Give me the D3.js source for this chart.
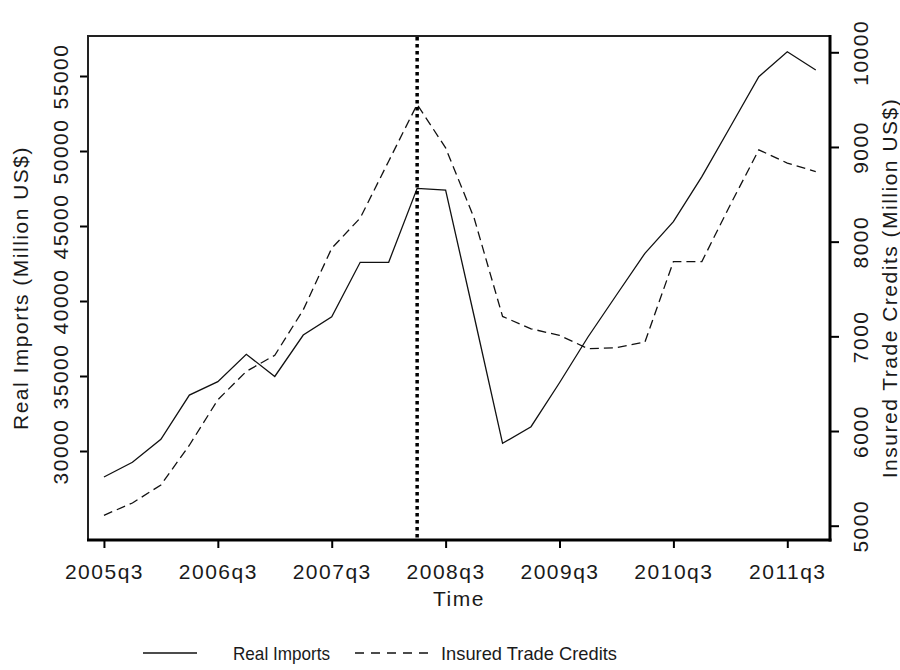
<!DOCTYPE html>
<html>
<head>
<meta charset="utf-8">
<script src="https://cdn.jsdelivr.net/npm/d3@7"></script>
<style>
  body { margin: 0; background: #fff; }
  svg text { font-family: "Liberation Sans", Arial, sans-serif; fill: #1a1a1a; }
</style>
</head>
<body>
<svg id="chart" width="900" height="670"></svg>
<script>
// quarters shown on the x axis
const quarters = ["2005q3","2005q4","2006q1","2006q2","2006q3","2006q4","2007q1","2007q2",
                  "2007q3","2007q4","2008q1","2008q2","2008q3","2008q4","2009q1","2009q2",
                  "2009q3","2009q4","2010q1","2010q2","2010q3","2010q4","2011q1","2011q2",
                  "2011q3","2011q4"];
// Real Imports (Million US$), left axis
const realImports = [28270, 29250, 30780, 33730, 34620, 36450, 34970, 37730, 38950, 42580,
                     42580, 47510, 47400, 39000, 30510, 31620, 34550, 37600, 40400, 43180,
                     45290, 48290, 51620, 54950, 56620, 55400];
// Insured Trade Credits (Million US$), right axis
const insuredCredits = [5110, 5240, 5430, 5850, 6330, 6630, 6800, 7280, 7930, 8250,
                        8850, 9450, 8990, 8250, 7210, 7080, 7010, 6870, 6880, 6940,
                        7790, 7790, 8390, 8970, 8830, 8740];
const xTickLabels = ["2005q3","2006q3","2007q3","2008q3","2009q3","2010q3","2011q3"];
const leftTicks = [30000, 35000, 40000, 45000, 50000, 55000];
const rightTicks = [5000, 6000, 7000, 8000, 9000, 10000];
const markQuarter = "2008q2";

const box = {left: 88, right: 830, top: 36, bottom: 540};
const svg = d3.select("#chart");

const x = d3.scaleLinear().domain([-0.56, 25.5]).range([box.left, box.right]);
const yL = d3.scaleLinear().domain([24067, 57667]).range([box.bottom, box.top]);
const yR = d3.scaleLinear().domain([4849, 10172]).range([box.bottom, box.top]);

const axisFont = "21px";
const spacing = "1.5px";

// x axis
let gx = svg.append("g").attr("transform", `translate(0,${box.bottom})`)
    .call(d3.axisBottom(x).tickValues(xTickLabels.map(q => quarters.indexOf(q)))
          .tickFormat(i => quarters[i]).tickSize(8).tickPadding(10));
gx.select(".domain").remove();
gx.selectAll("line").attr("stroke", "#000").attr("stroke-width", 2);
gx.selectAll("text").attr("font-size", axisFont).attr("letter-spacing", spacing)
    .attr("dy", null).attr("y", 39);

// left axis
let gl = svg.append("g").attr("transform", `translate(${box.left},0)`)
    .call(d3.axisLeft(yL).tickValues(leftTicks).tickFormat(d3.format("d")).tickSize(8));
gl.select(".domain").remove();
gl.selectAll("line").attr("stroke", "#000").attr("stroke-width", 2);
gl.selectAll("text").attr("font-size", axisFont).attr("letter-spacing", spacing)
    .attr("x", null).attr("dy", null).attr("text-anchor", "middle")
    .attr("transform", "translate(-20,0) rotate(-90)");

// right axis
let gr = svg.append("g").attr("transform", `translate(${box.right},0)`)
    .call(d3.axisRight(yR).tickValues(rightTicks).tickFormat(d3.format("d")).tickSize(9));
gr.select(".domain").remove();
gr.selectAll("line").attr("stroke", "#000").attr("stroke-width", 2);
gr.selectAll("text").attr("font-size", axisFont).attr("letter-spacing", spacing)
    .attr("x", null).attr("dy", null).attr("text-anchor", "middle")
    .attr("transform", "translate(38,0) rotate(-90)");

// plot box
svg.append("rect").attr("x", box.left).attr("y", box.top)
    .attr("width", box.right - box.left).attr("height", box.bottom - box.top)
    .attr("fill", "none").attr("stroke", "#222").attr("stroke-width", 2);
svg.append("line").attr("x1", box.left - 1).attr("x2", box.right + 1.5)
    .attr("y1", box.bottom).attr("y2", box.bottom).attr("stroke", "#000").attr("stroke-width", 3);
svg.append("line").attr("x1", box.right).attr("x2", box.right)
    .attr("y1", box.top - 1).attr("y2", box.bottom + 1.5).attr("stroke", "#000").attr("stroke-width", 3);

// axis titles
const midX = (box.left + box.right) / 2, midY = (box.top + box.bottom) / 2;
svg.append("text").attr("x", midX).attr("y", 606).attr("text-anchor", "middle")
    .attr("font-size", axisFont).attr("letter-spacing", spacing).text("Time");
svg.append("text").attr("transform", `translate(28,${midY}) rotate(-90)`)
    .attr("text-anchor", "middle").attr("font-size", axisFont).attr("letter-spacing", spacing)
    .text("Real Imports (Million US$)");
svg.append("text").attr("transform", `translate(897,${midY}) rotate(-90)`)
    .attr("text-anchor", "middle").attr("font-size", axisFont).attr("letter-spacing", spacing)
    .text("Insured Trade Credits (Million US$)");

// series
const lineL = d3.line().x((d, i) => x(i)).y(d => yL(d));
const lineR = d3.line().x((d, i) => x(i)).y(d => yR(d));
svg.append("path").datum(realImports).attr("d", lineL)
    .attr("fill", "none").attr("stroke", "#111").attr("stroke-width", 1.3);
svg.append("path").datum(insuredCredits).attr("d", lineR)
    .attr("fill", "none").attr("stroke", "#111").attr("stroke-width", 1.3)
    .attr("stroke-dasharray", "9,5");

// dotted marker
const mx = x(quarters.indexOf(markQuarter));
svg.append("line").attr("x1", mx).attr("x2", mx).attr("y1", box.top + 1).attr("y2", box.bottom - 1)
    .attr("stroke", "#000").attr("stroke-width", 3.5).attr("stroke-dasharray", "3.5,3.5");

// legend (narrow bitmap-like text, squeezed to the reference width)
const legend = svg.append("g").attr("transform", "translate(0,653)");
legend.append("line").attr("x1", 143).attr("x2", 197).attr("y1", 0).attr("y2", 0)
    .attr("stroke", "#111").attr("stroke-width", 1.5);
legend.append("text").attr("x", 233).attr("y", 7).attr("font-size", "19px")
    .attr("textLength", 97).attr("lengthAdjust", "spacingAndGlyphs").text("Real Imports");
legend.append("line").attr("x1", 355).attr("x2", 430).attr("y1", 0).attr("y2", 0)
    .attr("stroke", "#111").attr("stroke-width", 1.5).attr("stroke-dasharray", "9,7");
legend.append("text").attr("x", 441).attr("y", 7).attr("font-size", "19px")
    .attr("textLength", 176).attr("lengthAdjust", "spacingAndGlyphs").text("Insured Trade Credits");
</script>
</body>
</html>
